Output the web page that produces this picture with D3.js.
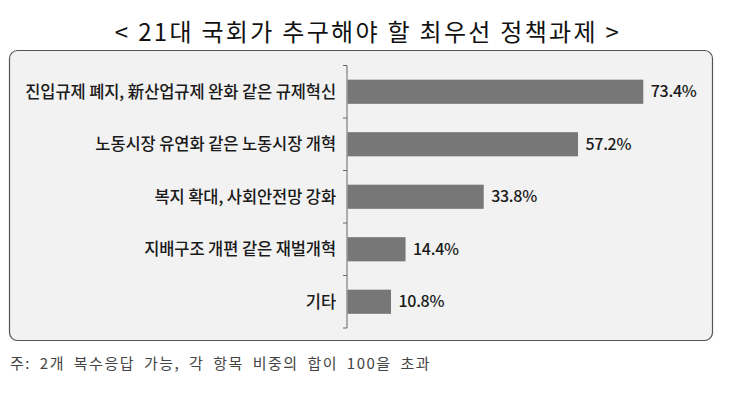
<!DOCTYPE html>
<html>
<head>
<meta charset="utf-8">
<script src="https://cdn.jsdelivr.net/npm/d3@7"></script>
<style>
    body { margin: 0; background: #fff; }
    text { font-family: "Noto Sans CJK KR", "Noto Sans", sans-serif; }
</style>
</head>
<body>
<svg id="chart" width="737" height="400"></svg>
<script>

// Data
const categories = [
    "진입규제 폐지, 新산업규제 완화 같은 규제혁신",
    "노동시장 유연화 같은 노동시장 개혁",
    "복지 확대, 사회안전망 강화",
    "지배구조 개편 같은 재벌개혁",
    "기타"
];
const values = [73.4, 57.2, 33.8, 14.4, 10.8];
const valueLabels = ["73.4%", "57.2%", "33.8%", "14.4%", "10.8%"];
const titleText = "< 21대 국회가 추구해야 할 최우선 정책과제 >";
const noteText = "주: 2개 복수응답 가능, 각 항목 비중의 합이 100을 초과";

const svg = d3.select("#chart");

// Title
svg.append("text")
    .attr("x", 368)
    .attr("y", 41)
    .attr("text-anchor", "middle")
    .attr("font-size", 24)
    .attr("letter-spacing", 2.3)
    .attr("fill", "#111")
    .text(titleText);

// Panel
svg.append("rect")
    .attr("x", 9.5)
    .attr("y", 50.5)
    .attr("width", 703)
    .attr("height", 290)
    .attr("rx", 8)
    .attr("fill", "#f2f2f2")
    .attr("stroke", "#555")
    .attr("stroke-width", 1.2);

// Scales
const x = d3.scaleLinear()
    .domain([0, 100])
    .range([347, 750]);
const y = d3.scaleBand()
    .domain(categories)
    .range([65.5, 328])
    .paddingInner(0.54)
    .paddingOuter(0.27);

// Axis line with ticks on band boundaries
const bounds = d3.range(categories.length + 1).map(i => y.range()[0] + i * y.step());
svg.append("line")
    .attr("x1", 347).attr("x2", 347)
    .attr("y1", bounds[0]).attr("y2", bounds[bounds.length - 1])
    .attr("stroke", "#666")
    .attr("stroke-width", 1);
svg.selectAll(".tick-mark")
    .data(bounds)
    .join("line")
    .classed("tick-mark", true)
    .attr("x1", 343).attr("x2", 347)
    .attr("y1", d => d).attr("y2", d => d)
    .attr("stroke", "#666");

// Bars
svg.selectAll(".bar")
    .data(values)
    .join("rect")
    .classed("bar", true)
    .attr("x", x(0) + 0.5)
    .attr("y", (d, i) => y(categories[i]))
    .attr("width", d => x(d) - x(0))
    .attr("height", y.bandwidth())
    .attr("fill", "#777");

// Category labels
svg.selectAll(".cat-label")
    .data(categories)
    .join("text")
    .classed("cat-label", true)
    .attr("x", 336)
    .attr("y", d => y(d) + y.bandwidth() / 2)
    .attr("dy", "0.35em")
    .attr("text-anchor", "end")
    .attr("font-size", 16.5)
    .attr("font-weight", 500)
    .attr("letter-spacing", -0.1)
    .attr("fill", "#1a1a1a")
    .text(d => d);

// Value labels
svg.selectAll(".val-label")
    .data(values)
    .join("text")
    .classed("val-label", true)
    .attr("x", d => x(d) + 8)
    .attr("y", (d, i) => y(categories[i]) + y.bandwidth() / 2)
    .attr("dy", "0.35em")
    .attr("font-size", 16)
    .attr("font-weight", 500)
    .attr("letter-spacing", -0.3)
    .attr("fill", "#1a1a1a")
    .text((d, i) => valueLabels[i]);

// Footnote
svg.append("text")
    .attr("x", 10)
    .attr("y", 369)
    .attr("font-size", 15)
    .attr("letter-spacing", 1.5)
    .attr("word-spacing", 4)
    .attr("fill", "#444")
    .text(noteText);

</script>
</body>
</html>
